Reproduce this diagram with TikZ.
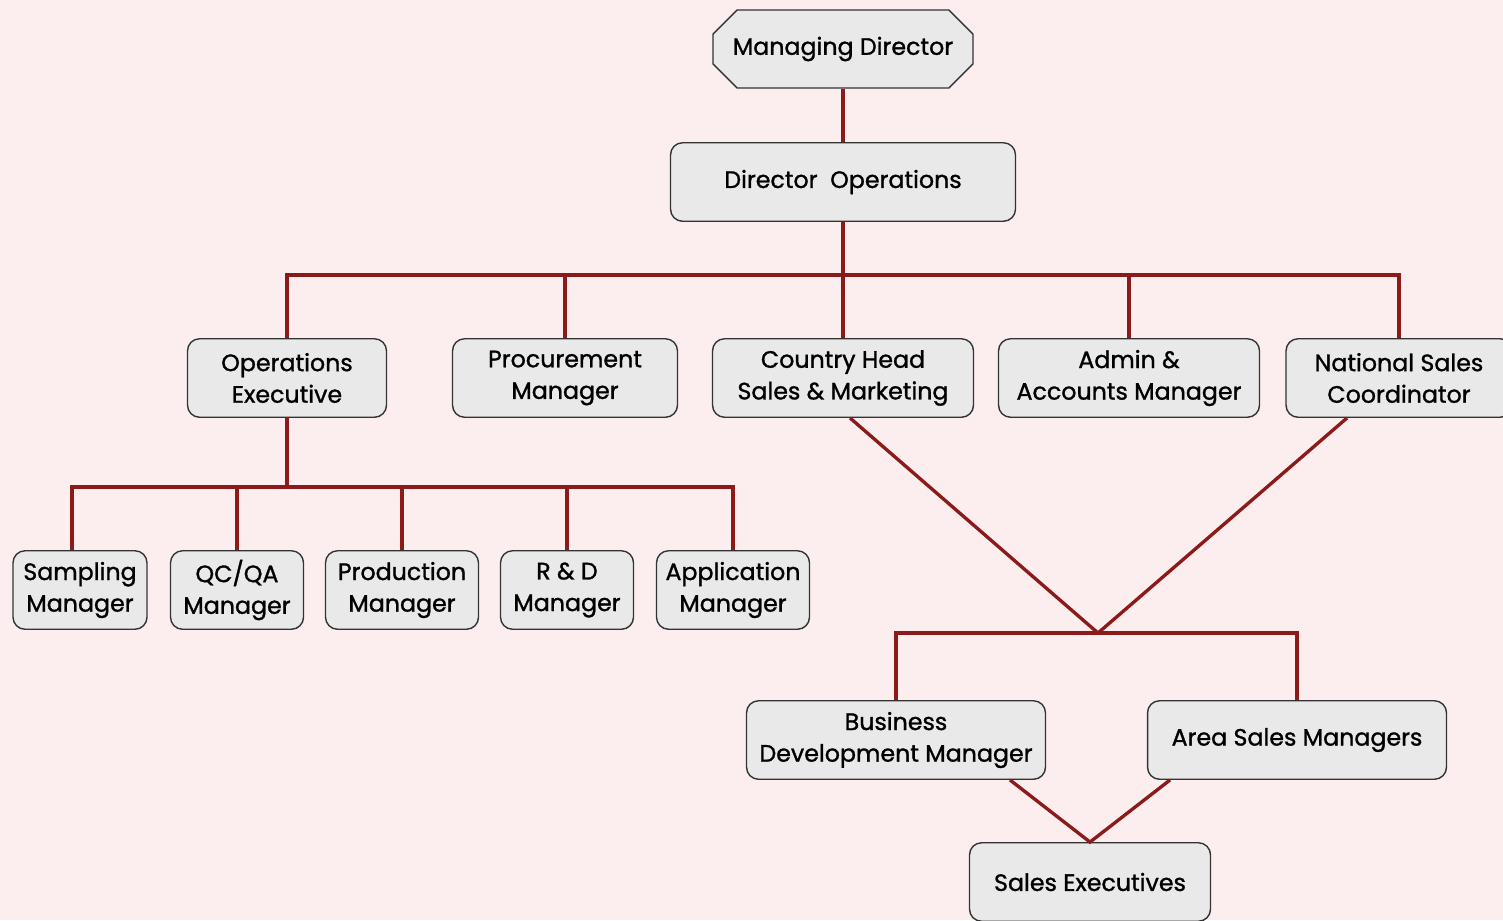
\documentclass[tikz,border=0pt]{standalone}
\usepackage{fontspec}
\setmainfont{Poppins}
\newfontfamily\boxfont{Poppins}[BoldFont=Poppins, BoldFeatures={FakeBold=1.2}]
\usepackage{tikz}
\usetikzlibrary{shapes.misc}
\definecolor{bgpink}{HTML}{FCEEEE}
\definecolor{boxgray}{HTML}{E9E9E9}
\definecolor{linered}{HTML}{8B1A1A}
\definecolor{edgegray}{HTML}{333333}

\begin{document}
\begin{tikzpicture}[x=0.02cm,y=-0.02cm,
    box/.style={draw=edgegray, fill=boxgray, line width=0.8pt, rounded corners=0.24cm,
      minimum height=1.57cm, inner sep=0pt, align=center, font=\boxfont\bfseries\fontsize{13.5}{18}\selectfont},
    link/.style={draw=linered, line width=1.9pt}]
    \fill[bgpink] (0,0) rectangle (1503,920);
    \useasboundingbox (0,0) rectangle (1503,920);
    \node[box, chamfered rectangle, chamfered rectangle xsep=0.24cm, chamfered rectangle ysep=0.24cm,
      rounded corners=0pt, minimum width=5.2cm, minimum height=1.56cm] (md) at (843,49) {Managing Director};
    \node[box, minimum width=6.9cm] (do) at (843,182) {Director\ \ Operations};
    \node[box, minimum width=3.98cm] (ops) at (287,378) {Operations\\Executive};
    \node[box, minimum width=4.5cm] (proc) at (565,378) {Procurement\\Manager};
    \node[box, minimum width=5.22cm] (chs) at (843,378) {Country Head\\Sales \& Marketing};
    \node[box, minimum width=5.22cm] (adm) at (1129,378) {Admin \&\\Accounts Manager};
    \node[box, minimum width=4.52cm] (nsc) at (1399,378) {National Sales\\Coordinator};
    \node[box, minimum width=2.68cm] (samp) at (80,590) {Sampling\\Manager};
    \node[box, minimum width=2.66cm] (qc) at (237,590) {QC/QA\\Manager};
    \node[box, minimum width=3.06cm] (prod) at (402,590) {Production\\Manager};
    \node[box, minimum width=2.66cm] (rd) at (567,590) {R \& D\\Manager};
    \node[box, minimum width=3.06cm] (app) at (733,590) {Application\\Manager};
    \node[box, minimum width=5.98cm] (bdm) at (896,740) {Business\\Development Manager};
    \node[box, minimum width=5.98cm] (asm) at (1297,740) {Area Sales Managers};
    \node[box, minimum width=4.82cm] (se) at (1090,882) {Sales Executives};
    \coordinate (topbus) at (843,275);
    \coordinate (opsbus) at (287,487);
    \coordinate (salesbus) at (1098,633);
    \draw[link] (md.south) -- (do.north);
    \draw[link] (do.south) -- (topbus) -- (chs.north);
    \draw[link] (ops.north) |- (topbus) -| (nsc.north);
    \draw[link] (topbus) -| (proc.north);
    \draw[link] (topbus) -| (adm.north);
    \draw[link] (ops.south) -- (opsbus);
    \draw[link] ([xshift=-0.16cm]samp.north) |- (opsbus) -| (app.north);
    \draw[link] (opsbus) -| (qc.north);
    \draw[link] (opsbus) -| (prod.north);
    \draw[link] (opsbus) -| (rd.north);
    \draw[link] ([xshift=0.14cm]chs.south) -- (salesbus) -- ([xshift=-1.04cm]nsc.south);
    \draw[link] (bdm.north) |- (salesbus) -| (asm.north);
    \draw[link] ([xshift=2.28cm]bdm.south) -- (se.north) -- ([xshift=-2.54cm]asm.south);
\end{tikzpicture}
\end{document}
